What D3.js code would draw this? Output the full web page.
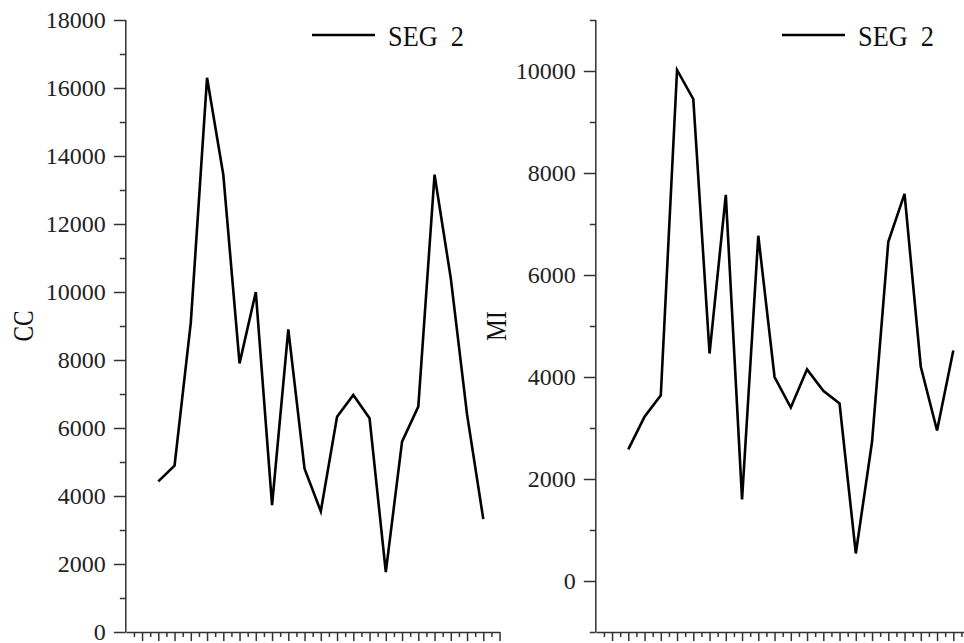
<!DOCTYPE html>
<html>
<head>
<meta charset="utf-8">
<script src="https://cdn.jsdelivr.net/npm/d3@7"></script>
<style>
  html, body { margin: 0; padding: 0; background: #fff; }
  svg { display: block; }
  .tick text { font-family: "Liberation Serif", "Times New Roman", serif; font-size: 24px; fill: #222; }
  .domain, .tick line { stroke: #333; stroke-width: 1.5; }
</style>
</head>
<body>
<svg id="chart" width="964" height="643"></svg>
<script>
// ---- data ----
const samplePositions = [2, 3, 4, 5, 6, 7, 8, 9, 10, 11, 12, 13, 14, 15, 16, 17, 18, 19, 20, 21, 22];
const ccValues = [4430, 4890, 9100, 16300, 13450, 7900, 10000, 3730, 8900, 4800, 3550, 6330, 6970, 6290, 1760, 5600, 6630, 13450, 10400, 6400, 3320];
const miValues = [2580, 3220, 3640, 10020, 9450, 4460, 7570, 1600, 6770, 4000, 3400, 4150, 3730, 3480, 540, 2730, 6650, 7590, 4200, 2950, 4520];
const seriesName = "SEG\u00a0\u00a02";
const ccMajorTicks = [0, 2000, 4000, 6000, 8000, 10000, 12000, 14000, 16000, 18000];
const ccMinorTicks = [1000, 3000, 5000, 7000, 9000, 11000, 13000, 15000, 17000];
const miMajorTicks = [0, 2000, 4000, 6000, 8000, 10000];
const miMinorTicks = [-1000, 1000, 3000, 5000, 7000, 9000, 11000];
const xMajorTicks = d3.range(1, 24);
const xMinorTicks = d3.range(0.5, 23, 1);

const svg = d3.select("#chart");

function panel(opts) {
  const x = d3.scaleLinear().domain([0, 23]).range([opts.left, opts.left + 23 * 16.25]);
  const y = d3.scaleLinear().domain(opts.yDomain).range([632, 20]);
  const g = svg.append("g");

  // y axis minor ticks
  g.append("g").attr("transform", `translate(${opts.left},0)`)
    .call(d3.axisLeft(y).tickValues(opts.minor).tickSize(6).tickFormat(""))
    .call(s => s.select(".domain").remove());
  // y axis major
  g.append("g").attr("transform", `translate(${opts.left},0)`)
    .call(d3.axisLeft(y).tickValues(opts.major).tickSize(12).tickSizeOuter(0).tickPadding(8).tickFormat(d3.format("d")))
    .call(s => s.select(".domain").attr("d", `M0,${y.range()[0]}V${y.range()[1]}`));

  // x axis
  g.append("g").attr("transform", "translate(0,632)")
    .call(d3.axisBottom(x).tickValues(xMinorTicks).tickSize(5).tickFormat("").tickSizeOuter(0));
  g.append("g").attr("transform", "translate(0,632)")
    .call(d3.axisBottom(x).tickValues(xMajorTicks).tickSize(9).tickFormat("").tickSizeOuter(0))
    .call(s => s.select(".domain").remove());

  // line
  const line = d3.line().x((d, i) => x(samplePositions[i])).y(d => y(d));
  g.append("path").datum(opts.values)
    .attr("d", line).attr("fill", "none").attr("stroke", "#000")
    .attr("stroke-width", 2.6).attr("stroke-linejoin", "miter");

  // axis title
  g.append("text")
    .attr("transform", `translate(${opts.titleX},326) rotate(-90)`)
    .attr("text-anchor", "middle")
    .attr("font-family", "Liberation Serif, serif")
    .attr("font-size", 30)
    .attr("textLength", opts.titleLen).attr("lengthAdjust", "spacingAndGlyphs")
    .attr("fill", "#111")
    .text(opts.title);

  // legend
  g.append("line").attr("x1", opts.legendX).attr("x2", opts.legendX + 63)
    .attr("y1", 35).attr("y2", 35).attr("stroke", "#000").attr("stroke-width", 2.6);
  g.append("text").attr("x", opts.legendX + 76).attr("y", 46)
    .attr("font-family", "Liberation Serif, serif").attr("font-size", 29)
    .attr("textLength", 76).attr("lengthAdjust", "spacingAndGlyphs")
    .attr("fill", "#111")
    .text(seriesName);
}

panel({ left: 125.8, yDomain: [0, 18000], major: ccMajorTicks, minor: ccMinorTicks,
        values: ccValues, title: "CC", titleX: 33, titleLen: 31, legendX: 312 });
panel({ left: 595.8, yDomain: [-1000, 11000], major: miMajorTicks, minor: miMinorTicks,
        values: miValues, title: "MI", titleX: 506, titleLen: 30, legendX: 782 });
</script>
</body>
</html>
